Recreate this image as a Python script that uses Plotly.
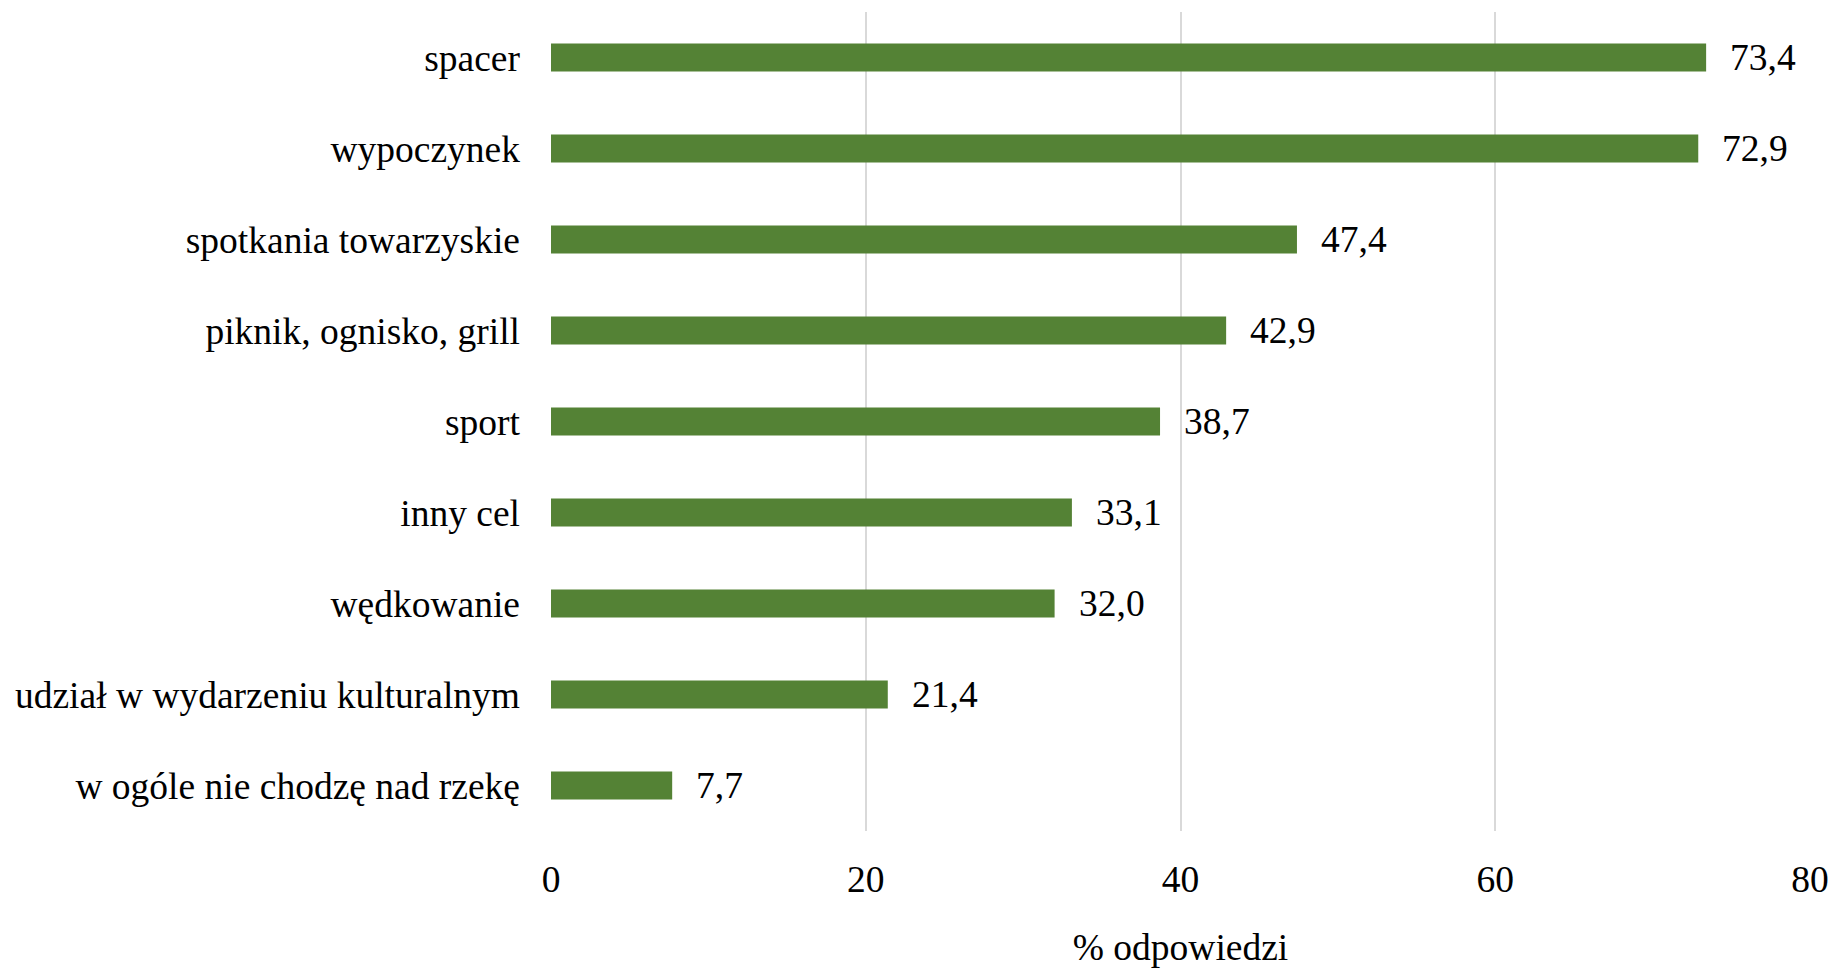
import plotly.graph_objects as go

categories = [
    "spacer",
    "wypoczynek",
    "spotkania towarzyskie",
    "piknik, ognisko, grill",
    "sport",
    "inny cel",
    "wędkowanie",
    "udział w wydarzeniu kulturalnym",
    "w ogóle nie chodzę nad rzekę",
]
values = [73.4, 72.9, 47.4, 42.9, 38.7, 33.1, 32.0, 21.4, 7.7]
x_ticks = [0, 20, 40, 60, 80]
x_title = "% odpowiedzi"

FONT = "'Liberation Serif', 'Times New Roman', Times, serif"
FS = 37.5
labels = [f"{v:.1f}".replace(".", ",") for v in values]

fig = go.Figure(
    go.Bar(
        x=values,
        y=categories,
        orientation="h",
        marker=dict(color="#548235", line=dict(width=0)),
        width=0.31,
        hoverinfo="skip",
    )
)

for c, v, t in zip(categories, values, labels):
    fig.add_annotation(
        x=v, y=c, text=t, showarrow=False, xanchor="left", yanchor="middle",
        xshift=22, font=dict(family=FONT, size=FS, color="#000000"),
    )

fig.update_layout(
    width=1835,
    height=972,
    margin=dict(l=551, r=25, t=12, b=141),
    paper_bgcolor="white",
    plot_bgcolor="white",
    showlegend=False,
    font=dict(family=FONT, size=FS, color="#000000"),
    xaxis=dict(
        range=[0, 80],
        tickvals=x_ticks,
        ticktext=[str(t) for t in x_ticks],
        showgrid=True,
        gridcolor="#d9d9d9",
        gridwidth=2,
        zeroline=False,
        showline=False,
        ticks="",
        automargin=False,
        ticklabelstandoff=22,
        tickfont=dict(family=FONT, size=FS),
        title=dict(text=x_title, font=dict(family=FONT, size=FS), standoff=35),
    ),
    yaxis=dict(
        categoryorder="array",
        categoryarray=categories[::-1],
        showgrid=False,
        zeroline=False,
        showline=False,
        ticks="",
        automargin=False,
        ticklabelstandoff=30,
        tickfont=dict(family=FONT, size=FS),
    ),
)

fig.write_html(
    "out.html",
    config={"displayModeBar": False},
    post_script="document.body.style.margin='0';document.body.style.overflow='hidden';",
)
